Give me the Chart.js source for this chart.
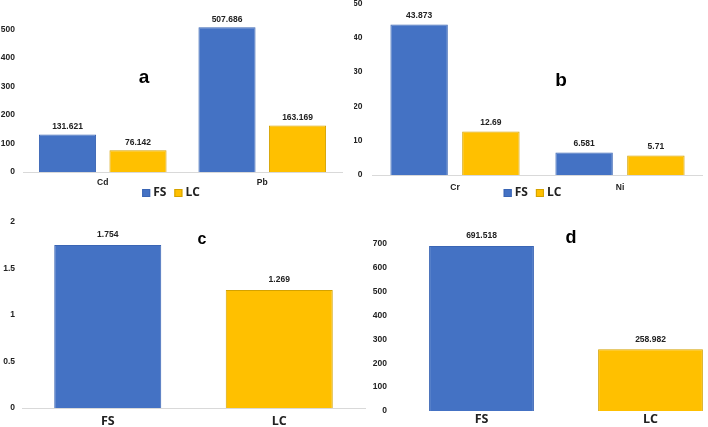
<!DOCTYPE html>
<html lang="en">
<head>
    <meta charset="UTF-8">
    <title>FS vs LC</title>
    <script src="https://cdn.jsdelivr.net/npm/chart.js"></script>
    <style>
        body {
            margin: 0;
            padding: 0;
            background: #fff;
            overflow: hidden;
        }
        .page {
            position: relative;
            width: 708px;
            height: 427px;
            overflow: hidden;
        }
        .panel {
            position: absolute;
        }
        .letra {
            position: absolute;
            font-family: "Liberation Sans", Arial, sans-serif;
            font-weight: bold;
            color: #000;
            transform: translate(-50%, -50%);
        }
    </style>
</head>
<body>
<div class="page">
    <div class="panel" style="left:0;top:0;width:354px;height:205px"><canvas id="chartA"></canvas></div>
    <div class="panel" style="left:354px;top:0;width:354px;height:205px"><canvas id="chartB"></canvas></div>
    <div class="panel" style="left:0;top:210px;width:366px;height:217px"><canvas id="chartC"></canvas></div>
    <div class="panel" style="left:354px;top:210px;width:390px;height:217px"><canvas id="chartD"></canvas></div>

    <div class="letra" style="left:144px;top:77px;font-size:19px">a</div>
    <div class="letra" style="left:561px;top:80px;font-size:19px">b</div>
    <div class="letra" style="left:202px;top:239px;font-size:16px">c</div>
    <div class="letra" style="left:571px;top:237px;font-size:18px">d</div>
</div>

<script>
    // Datos
    const seriesNames = ['FS', 'LC'];

    const metalsA = ['Cd', 'Pb'];
    const fsA = [131.621, 507.686];
    const lcA = [76.142, 163.169];

    const metalsB = ['Cr', 'Ni'];
    const fsB = [43.873, 6.581];
    const lcB = [12.69, 5.71];

    const labelsC = ['FS', 'LC'];
    const valuesC = [1.754, 1.269];

    const labelsD = ['FS', 'LC'];
    const valuesD = [691.518, 258.982];

    const BLUE = '#4472C4';
    const BLUE_BORDER = '#3A65B4';
    const GOLD = '#FFC000';
    const GOLD_BORDER = '#D4A200';
    const FONT = '"Liberation Sans", Arial, sans-serif';

    // etiquetas de valor encima de cada barra
    const valueLabels = {
        id: 'valueLabels',
        afterDatasetsDraw(chart, args, opts) {
            const ctx = chart.ctx;
            ctx.save();
            ctx.font = 'bold ' + opts.size + 'px ' + FONT;
            ctx.fillStyle = '#222';
            ctx.textAlign = 'center';
            ctx.textBaseline = 'middle';
            chart.data.datasets.forEach((ds, i) => {
                chart.getDatasetMeta(i).data.forEach((bar, j) => {
                    ctx.fillText(String(ds.data[j]), bar.x, bar.y - opts.offset);
                });
            });
            ctx.restore();
        }
    };

    // leyenda pequeña debajo del eje
    const miniLegend = {
        id: 'miniLegend',
        afterDraw(chart, args, opts) {
            if (!opts.show) return;
            const ctx = chart.ctx;
            const area = chart.chartArea;
            ctx.save();
            ctx.font = 'bold 12px "Open Sans", sans-serif';
            ctx.textBaseline = 'middle';
            const y = area.bottom + opts.dy;
            const items = chart.data.datasets.map(ds => ({
                text: ds.label, fill: ds.backgroundColor, stroke: ds.borderColor,
                w: ctx.measureText(ds.label).width
            }));
            const box = 8, gap = 3, spacing = 8;
            let total = 0;
            items.forEach((it, i) => { total += box + gap + it.w + (i ? spacing : 0); });
            let x = opts.cx - total / 2;
            items.forEach(it => {
                ctx.fillStyle = it.fill;
                ctx.fillRect(x, y - box / 2, box, box);
                ctx.strokeStyle = it.stroke;
                ctx.lineWidth = 1;
                ctx.strokeRect(x + 0.5, y - box / 2 + 0.5, box - 1, box - 1);
                ctx.fillStyle = '#222';
                ctx.fillText(it.text, x + box + gap, y);
                x += box + gap + it.w + spacing;
            });
            ctx.restore();
        }
    };

    function makeChart(id, cfg) {
        const ctx = document.getElementById(id).getContext('2d');
        return new Chart(ctx, {
            type: 'bar',
            data: {
                labels: cfg.labels,
                datasets: cfg.datasets
            },
            options: {
                responsive: true,
                maintainAspectRatio: false,
                animation: false,
                layout: { padding: cfg.padding },
                plugins: {
                    legend: { display: false },
                    tooltip: { enabled: false },
                    valueLabels: { size: cfg.valueSize, offset: cfg.valueOffset },
                    miniLegend: { show: !!cfg.legend, cx: cfg.legend ? cfg.legend.cx : 0, dy: cfg.legend ? cfg.legend.dy : 0 }
                },
                scales: {
                    x: {
                        grid: { display: false, drawTicks: false },
                        border: { display: cfg.baseline, color: '#d9d9d9', width: 1 },
                        ticks: {
                            padding: cfg.xPad,
                            color: '#222',
                            font: { family: cfg.xFamily, size: cfg.xSize, weight: 'bold' },
                            maxRotation: 0
                        },
                        afterFit(scale) {
                            scale.height = cfg.xHeight;
                            scale.paddingLeft = 0;
                            scale.paddingRight = 0;
                        }
                    },
                    y: {
                        min: 0,
                        max: cfg.max,
                        grid: { display: false, drawTicks: false },
                        border: { display: false },
                        ticks: {
                            stepSize: cfg.step,
                            padding: cfg.yPad,
                            color: '#222',
                            font: { family: FONT, size: cfg.ySize, weight: 'bold' },
                            callback: v => String(v)
                        },
                        afterBuildTicks(scale) {
                            scale.ticks = scale.ticks.filter(t => t.value <= cfg.lastTick + 1e-9);
                        },
                        afterFit(scale) {
                            scale.width = cfg.yWidth;
                            scale.paddingTop = 0;
                            scale.paddingBottom = 0;
                        }
                    }
                }
            },
            plugins: [valueLabels, miniLegend]
        });
    }

    function pairDatasets(fs, lc, cat, bar) {
        return [
            { label: seriesNames[0], data: fs, backgroundColor: BLUE, borderColor: BLUE_BORDER, borderWidth: 1, categoryPercentage: cat, barPercentage: bar },
            { label: seriesNames[1], data: lc, backgroundColor: GOLD, borderColor: GOLD_BORDER, borderWidth: 1, categoryPercentage: cat, barPercentage: bar }
        ];
    }

    // a: Cd y Pb
    makeChart('chartA', {
        labels: metalsA,
        datasets: pairDatasets(fsA, lcA, 0.884, 0.81),
        padding: { left: 0, right: 12, top: 12, bottom: 0 },
        yWidth: 23, xHeight: 33,
        max: 561, step: 100, lastTick: 500,
        xPad: 6, yPad: 8, xSize: 8.5, ySize: 8.5, xFamily: FONT,
        valueSize: 8.5, valueOffset: 8,
        baseline: true,
        legend: { cx: 171, dy: 21 }
    });

    // b: Cr y Ni
    makeChart('chartB', {
        labels: metalsB,
        datasets: pairDatasets(fsB, lcB, 0.87, 0.8),
        padding: { left: 0, right: 5.5, top: 3.5, bottom: 0 },
        yWidth: 18.5, xHeight: 30,
        max: 50, step: 10, lastTick: 50,
        xPad: 8, yPad: 10, xSize: 8.5, ySize: 8.5, xFamily: FONT,
        valueSize: 8.5, valueOffset: 9,
        baseline: true,
        legend: { cx: 178.5, dy: 18 }
    });

    // c
    makeChart('chartC', {
        labels: labelsC,
        datasets: [{ label: 'c', data: valuesC, backgroundColor: [BLUE, GOLD], borderColor: [BLUE_BORDER, GOLD_BORDER], borderWidth: 1, categoryPercentage: 1, barPercentage: 0.624 }],
        padding: { left: 0, right: 1, top: 12, bottom: 0 },
        yWidth: 22, xHeight: 19,
        max: 2, step: 0.5, lastTick: 2,
        xPad: 6, yPad: 7, xSize: 12.5, ySize: 8.5, xFamily: '"Open Sans", sans-serif',
        valueSize: 8.5, valueOffset: 10,
        baseline: true,
        legend: null
    });

    // d
    makeChart('chartD', {
        labels: labelsD,
        datasets: [{ label: 'd', data: valuesD, backgroundColor: [BLUE, GOLD], borderColor: [BLUE_BORDER, GOLD_BORDER], borderWidth: 1, categoryPercentage: 1, barPercentage: 0.62 }],
        padding: { left: 0, right: 9, top: 34, bottom: 0 },
        yWidth: 43, xHeight: 16,
        max: 700, step: 100, lastTick: 700,
        xPad: 1, yPad: 10, xSize: 12.5, ySize: 8.5, xFamily: '"Open Sans", sans-serif',
        valueSize: 8.5, valueOffset: 10,
        baseline: false,
        legend: null
    });
</script>
</body>
</html>
